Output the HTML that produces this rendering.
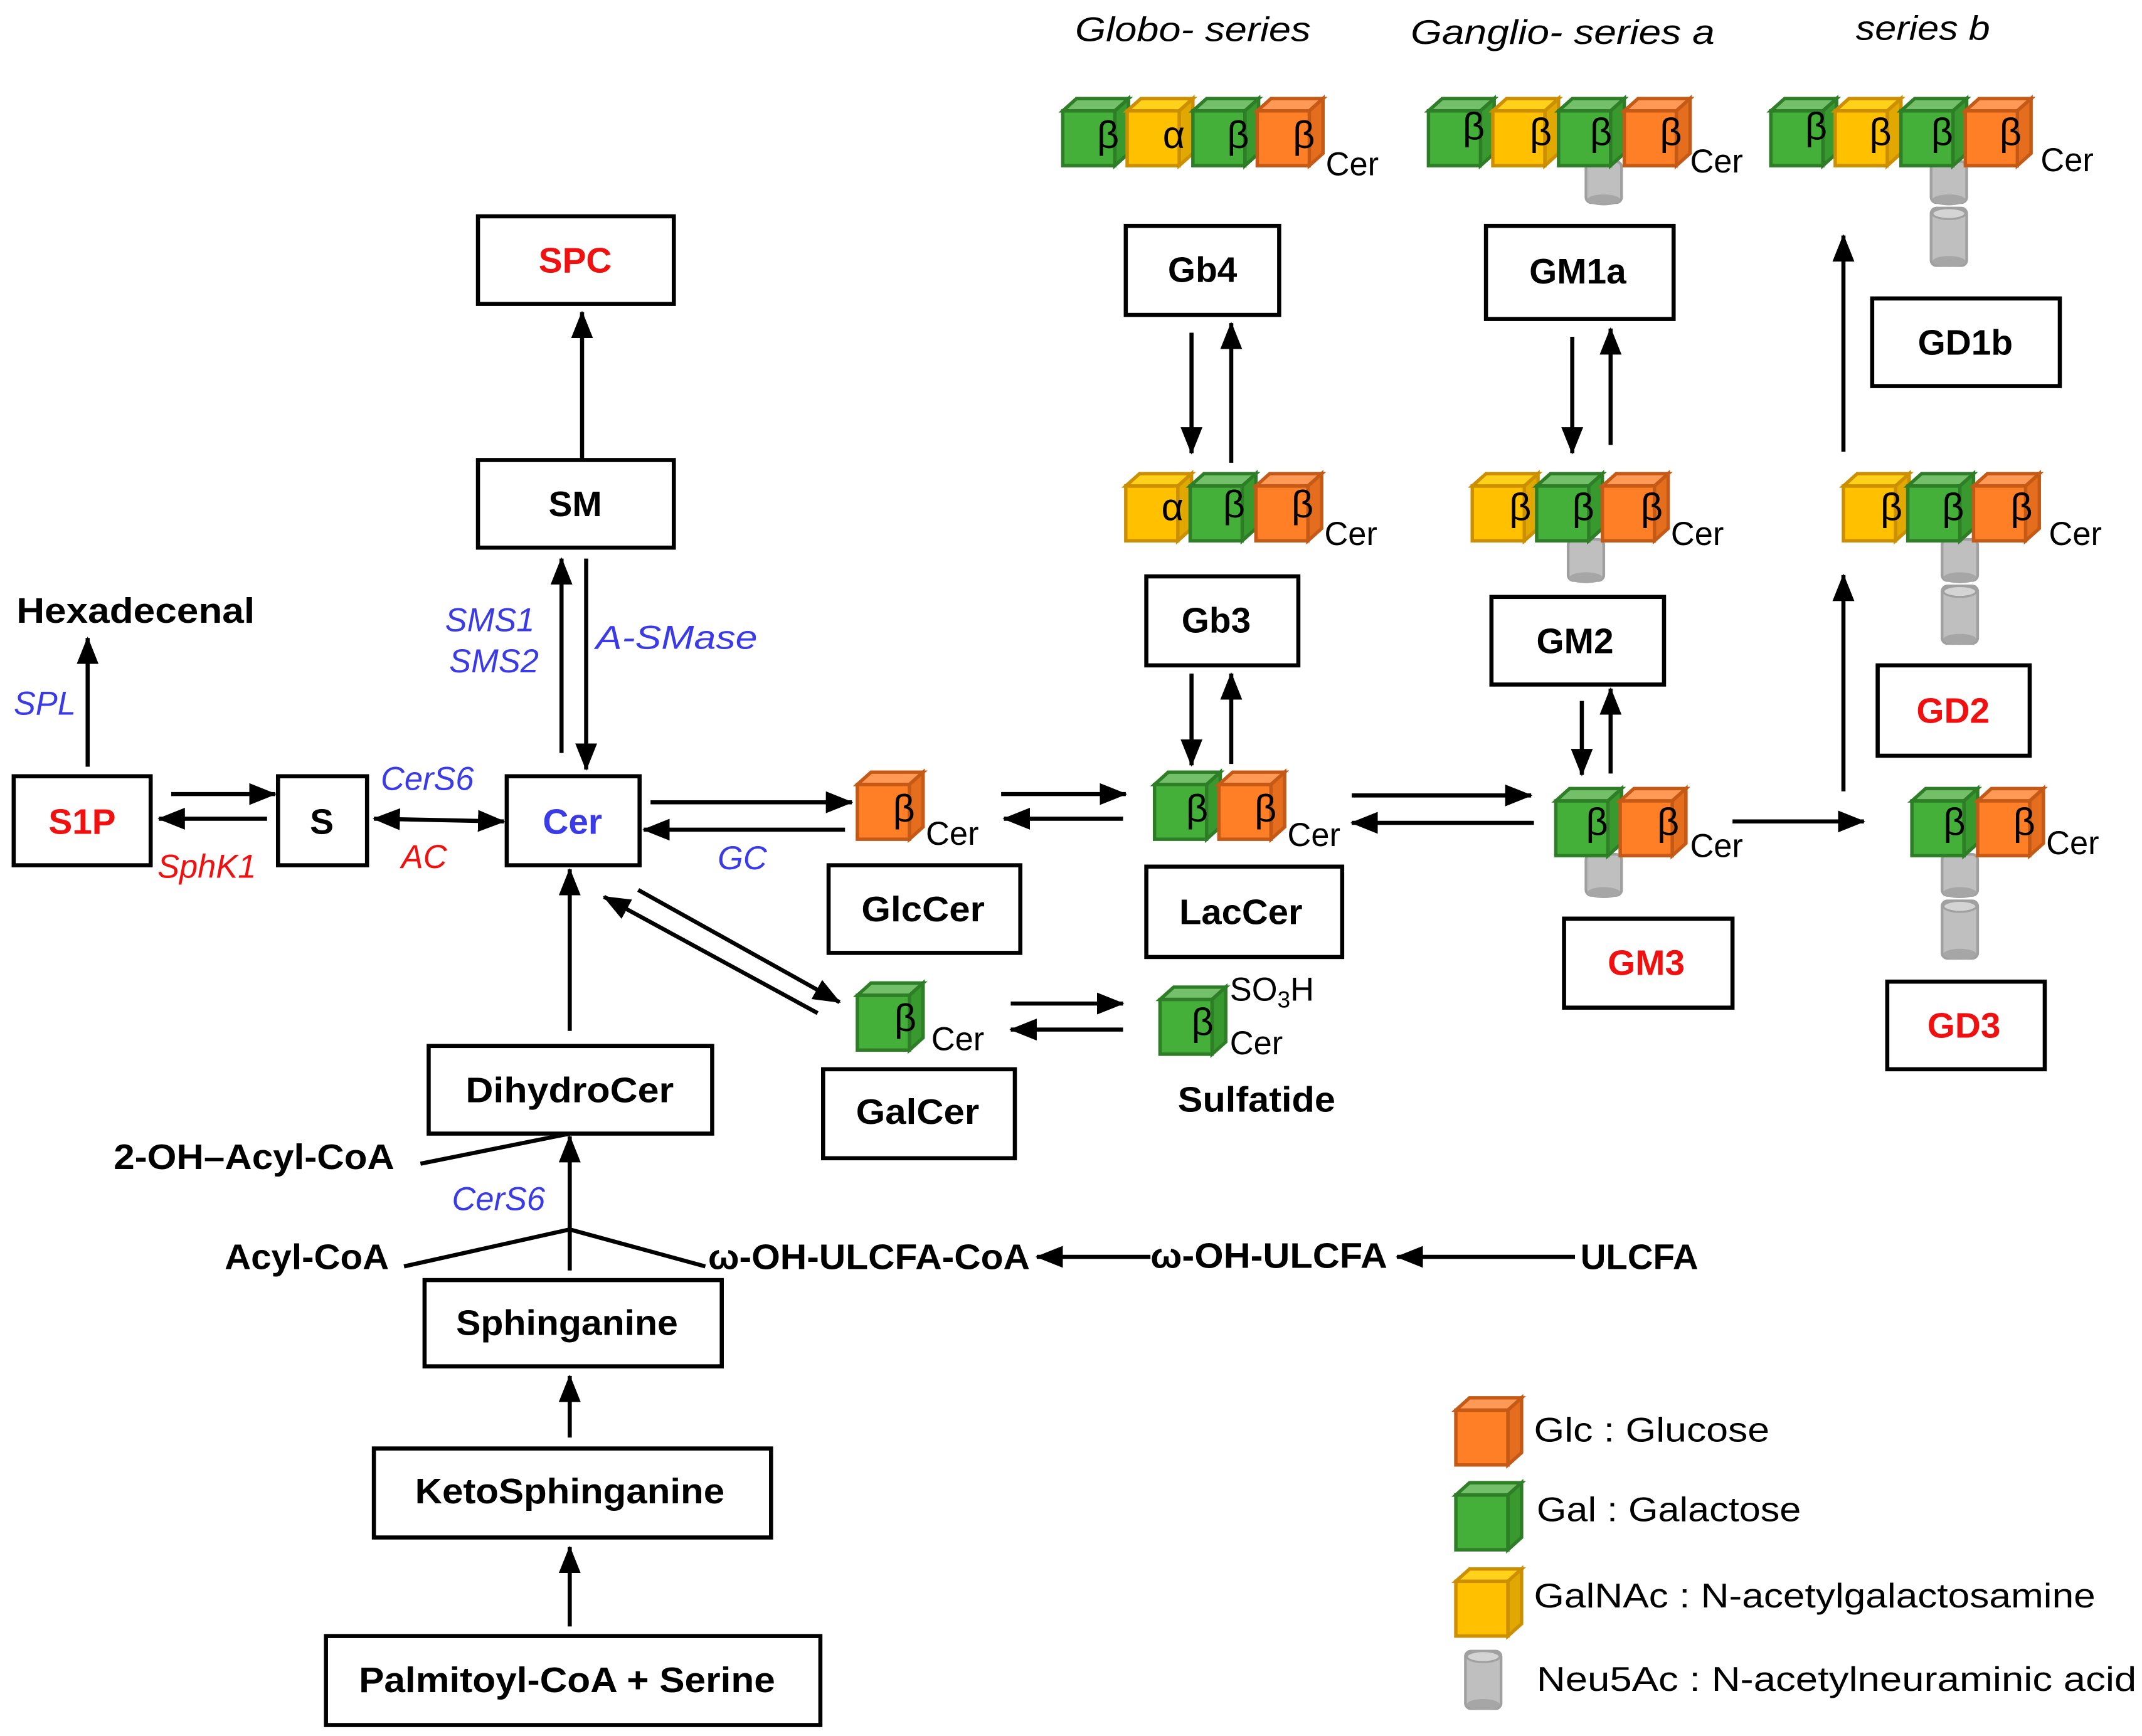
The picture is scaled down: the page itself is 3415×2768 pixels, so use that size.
<!DOCTYPE html>
<html><head><meta charset="utf-8"><style>
html,body{margin:0;padding:0;background:#fff}
svg{display:block}
text{font-family:"Liberation Sans",sans-serif}
.b{font-weight:bold;font-size:26px}
.bl{fill:#3a3ae8;font-style:italic;font-size:24px}
.rd{fill:#f01010;font-style:italic;font-size:24px}
.cer{font-size:24px}
.gk{font-family:"Liberation Serif",serif;font-size:28px}
.leg{font-size:25px}
</style></head><body>
<svg width="3415" height="2768" viewBox="0 0 1564 1268" preserveAspectRatio="none" xmlns="http://www.w3.org/2000/svg">
<defs>
<marker id="ah" markerUnits="userSpaceOnUse" markerWidth="20" markerHeight="16" refX="19" refY="8" orient="auto"><path d="M0,0 L20,8 L0,16 z" fill="#000"/></marker>
<marker id="ahs" markerUnits="userSpaceOnUse" markerWidth="20" markerHeight="16" refX="1" refY="8" orient="auto"><path d="M20,0 L0,8 L20,16 z" fill="#000"/></marker>
<g id="cG"><polygon points="0,0 10,-9 48,-9 38,0" fill="#74C06A" stroke="#2E7D27" stroke-width="2.5"/><polygon points="38,0 48,-9 48,31 38,40" fill="#389A2E" stroke="#2E7D27" stroke-width="2.5"/><rect x="0" y="0" width="38" height="40" fill="#45B039" stroke="#2E7D27" stroke-width="2.5"/></g>
<g id="cY"><polygon points="0,0 10,-9 48,-9 38,0" fill="#FFD11A" stroke="#CC8F00" stroke-width="2.5"/><polygon points="38,0 48,-9 48,31 38,40" fill="#E0A800" stroke="#CC8F00" stroke-width="2.5"/><rect x="0" y="0" width="38" height="40" fill="#FFC000" stroke="#CC8F00" stroke-width="2.5"/></g>
<g id="cO"><polygon points="0,0 10,-9 48,-9 38,0" fill="#FF9955" stroke="#C55A16" stroke-width="2.5"/><polygon points="38,0 48,-9 48,31 38,40" fill="#E56E1E" stroke="#C55A16" stroke-width="2.5"/><rect x="0" y="0" width="38" height="40" fill="#FF7F27" stroke="#C55A16" stroke-width="2.5"/></g>
<g id="cyl"><rect x="0" y="0" width="26" height="30" rx="4" fill="#BFBFBF" stroke="#A0A0A0" stroke-width="2"/><ellipse cx="13" cy="28" rx="12" ry="4" fill="#A6A6A6"/></g>
<g id="cyl2"><rect x="0" y="0" width="26" height="42" rx="4" fill="#BFBFBF" stroke="#A0A0A0" stroke-width="2"/><ellipse cx="13" cy="4" rx="12" ry="4" fill="#D4D4D4" stroke="#A0A0A0" stroke-width="1.5"/><ellipse cx="13" cy="39" rx="12" ry="4" fill="#A6A6A6"/></g>
</defs>

<text x="785" y="30" font-style="italic" font-size="25" textLength="172" lengthAdjust="spacingAndGlyphs">Globo- series</text>
<text x="1030" y="32" font-style="italic" font-size="25" textLength="222" lengthAdjust="spacingAndGlyphs">Ganglio- series a</text>
<text x="1355" y="29" font-style="italic" font-size="25" textLength="98" lengthAdjust="spacingAndGlyphs">series b</text>

<g fill="#fff" stroke="#000" stroke-width="3">
<rect x="349" y="158" width="143" height="64"/>
<rect x="349" y="336" width="143" height="64"/>
<rect x="10" y="567" width="100" height="65"/>
<rect x="203" y="567" width="65" height="65"/>
<rect x="370" y="567" width="97" height="65"/>
<rect x="313" y="764" width="207" height="64"/>
<rect x="310" y="935" width="217" height="63"/>
<rect x="273" y="1058" width="290" height="65"/>
<rect x="238" y="1195" width="361" height="65"/>
<rect x="605" y="632" width="140" height="64"/>
<rect x="601" y="781" width="140" height="65"/>
<rect x="837" y="633" width="143" height="66"/>
<rect x="837" y="421" width="111" height="65"/>
<rect x="822" y="165" width="112" height="65"/>
<rect x="1085" y="165" width="137" height="68"/>
<rect x="1089" y="436" width="126" height="64"/>
<rect x="1142" y="671" width="123" height="65"/>
<rect x="1367" y="218" width="137" height="64"/>
<rect x="1371" y="486" width="111" height="66"/>
<rect x="1378" y="717" width="115" height="64"/>
</g>
<g class="b" text-anchor="middle">
<text x="420" y="199" fill="#f01010">SPC</text>
<text x="420" y="377">SM</text>
<text x="60" y="609" fill="#f01010">S1P</text>
<text x="235" y="609">S</text>
<text x="418" y="609" fill="#3a3ae8">Cer</text>
<text x="416" y="805" textLength="152" lengthAdjust="spacingAndGlyphs">DihydroCer</text>
<text x="414" y="975" textLength="162" lengthAdjust="spacingAndGlyphs">Sphinganine</text>
<text x="416" y="1098" textLength="226" lengthAdjust="spacingAndGlyphs">KetoSphinganine</text>
<text x="414" y="1236" textLength="304" lengthAdjust="spacingAndGlyphs">Palmitoyl-CoA  + Serine</text>
<text x="674" y="673" textLength="90" lengthAdjust="spacingAndGlyphs">GlcCer</text>
<text x="670" y="821" textLength="90" lengthAdjust="spacingAndGlyphs">GalCer</text>
<text x="906" y="675" textLength="90" lengthAdjust="spacingAndGlyphs">LacCer</text>
<text x="888" y="462">Gb3</text>
<text x="878" y="206">Gb4</text>
<text x="1152" y="207">GM1a</text>
<text x="1150" y="477">GM2</text>
<text x="1202" y="712" fill="#f01010">GM3</text>
<text x="1435" y="259">GD1b</text>
<text x="1426" y="528" fill="#f01010">GD2</text>
<text x="1434" y="758" fill="#f01010">GD3</text>
</g>

<g class="b">
<text x="12" y="455" textLength="174" lengthAdjust="spacingAndGlyphs">Hexadecenal</text>
<text x="860" y="812" textLength="115" lengthAdjust="spacingAndGlyphs">Sulfatide</text>
<text x="83" y="854" textLength="205" lengthAdjust="spacingAndGlyphs">2-OH–Acyl-CoA</text>
<text x="164" y="927" textLength="120" lengthAdjust="spacingAndGlyphs">Acyl-CoA</text>
<text x="517" y="927" textLength="235" lengthAdjust="spacingAndGlyphs">ω-OH-ULCFA-CoA</text>
<text x="840" y="926" textLength="173" lengthAdjust="spacingAndGlyphs">ω-OH-ULCFA</text>
<text x="1154" y="927" textLength="86" lengthAdjust="spacingAndGlyphs">ULCFA</text>
</g>
<text class="bl" x="10" y="522">SPL</text>
<text class="bl" x="325" y="461">SMS1</text>
<text class="bl" x="328" y="491">SMS2</text>
<text class="bl" x="435" y="474" textLength="118" lengthAdjust="spacingAndGlyphs">A-SMase</text>
<text class="bl" x="278" y="577">CerS6</text>
<text class="rd" x="293" y="634">AC</text>
<text class="rd" x="115" y="641">SphK1</text>
<text class="bl" x="524" y="635">GC</text>
<text class="bl" x="330" y="884">CerS6</text>

<g stroke="#000" stroke-width="3" fill="none" marker-end="url(#ah)">
<line x1="425" y1="336" x2="425" y2="228"/>
<line x1="410" y1="550" x2="410" y2="408"/>
<line x1="428" y1="408" x2="428" y2="562"/>
<line x1="64" y1="560" x2="64" y2="466"/>
<line x1="125" y1="580" x2="201" y2="580"/>
<line x1="195" y1="598" x2="116" y2="598"/>
<line x1="273" y1="598" x2="368" y2="600" marker-start="url(#ahs)"/>
<line x1="475" y1="586" x2="622" y2="586"/>
<line x1="617" y1="606" x2="470" y2="606"/>
<line x1="597" y1="740" x2="441" y2="655"/>
<line x1="466" y1="650" x2="613" y2="732"/>
<line x1="731" y1="580" x2="822" y2="580"/>
<line x1="820" y1="598" x2="733" y2="598"/>
<line x1="738" y1="733" x2="820" y2="733"/>
<line x1="820" y1="752" x2="738" y2="752"/>
<line x1="987" y1="581" x2="1118" y2="581"/>
<line x1="1120" y1="601" x2="987" y2="601"/>
<line x1="1265" y1="600" x2="1361" y2="600"/>
<line x1="870" y1="492" x2="870" y2="559"/>
<line x1="899" y1="558" x2="899" y2="492"/>
<line x1="870" y1="243" x2="870" y2="331"/>
<line x1="899" y1="338" x2="899" y2="236"/>
<line x1="1148" y1="246" x2="1148" y2="331"/>
<line x1="1176" y1="325" x2="1176" y2="240"/>
<line x1="1155" y1="512" x2="1155" y2="566"/>
<line x1="1176" y1="565" x2="1176" y2="503"/>
<line x1="1346" y1="578" x2="1346" y2="420"/>
<line x1="1346" y1="330" x2="1346" y2="172"/>
<line x1="416" y1="753" x2="416" y2="635"/>
<line x1="416" y1="928" x2="416" y2="830"/>
<line x1="416" y1="1050" x2="416" y2="1005"/>
<line x1="416" y1="1188" x2="416" y2="1130"/>
<line x1="840" y1="918" x2="757" y2="918"/>
<line x1="1150" y1="918" x2="1020" y2="918"/>
</g>
<g stroke="#000" stroke-width="3" fill="none">
<polyline points="295,925 416,898 515,925"/>
<line x1="307" y1="850" x2="416" y2="828"/>
</g>

<g>
<use href="#cG" x="776" y="81"/><use href="#cY" x="823" y="81"/><use href="#cG" x="871" y="81"/><use href="#cO" x="918" y="81"/>
<use href="#cyl" x="1158" y="118"/>
<use href="#cG" x="1043" y="81"/><use href="#cY" x="1090" y="81"/><use href="#cG" x="1138" y="81"/><use href="#cO" x="1186" y="81"/>
<use href="#cyl2" x="1410" y="152"/><use href="#cyl" x="1410" y="118"/>
<use href="#cG" x="1293" y="81"/><use href="#cY" x="1340" y="81"/><use href="#cG" x="1388" y="81"/><use href="#cO" x="1435" y="81"/>
<use href="#cY" x="822" y="355"/><use href="#cG" x="869" y="355"/><use href="#cO" x="917" y="355"/>
<use href="#cyl" x="1145" y="394"/>
<use href="#cY" x="1075" y="355"/><use href="#cG" x="1122" y="355"/><use href="#cO" x="1170" y="355"/>
<use href="#cyl2" x="1418" y="428"/><use href="#cyl" x="1418" y="394"/>
<use href="#cY" x="1346" y="355"/><use href="#cG" x="1393" y="355"/><use href="#cO" x="1441" y="355"/>
<use href="#cO" x="626" y="573"/>
<use href="#cG" x="843" y="573"/><use href="#cO" x="890" y="573"/>
<use href="#cyl" x="1158" y="624"/>
<use href="#cG" x="1136" y="585"/><use href="#cO" x="1183" y="585"/>
<use href="#cyl2" x="1418" y="658"/><use href="#cyl" x="1418" y="624"/>
<use href="#cG" x="1396" y="585"/><use href="#cO" x="1444" y="585"/>
<use href="#cG" x="626" y="727"/>
<use href="#cG" x="847" y="730"/>
<use href="#cO" x="1063" y="1030"/>
<use href="#cG" x="1063" y="1092"/>
<use href="#cY" x="1063" y="1155"/>
<use href="#cyl2" x="1070" y="1206"/>
</g>

<g class="gk">
<text x="801" y="108">β</text><text x="849" y="108">α</text><text x="896" y="108">β</text><text x="944" y="108">β</text>
<text x="1068" y="102">β</text><text x="1117" y="106">β</text><text x="1161" y="106">β</text><text x="1212" y="106">β</text>
<text x="1318" y="102">β</text><text x="1365" y="106">β</text><text x="1410" y="106">β</text><text x="1460" y="106">β</text>
<text x="848" y="380">α</text><text x="893" y="378">β</text><text x="943" y="378">β</text>
<text x="1102" y="380">β</text><text x="1148" y="380">β</text><text x="1198" y="380">β</text>
<text x="1373" y="380">β</text><text x="1418" y="380">β</text><text x="1468" y="380">β</text>
<text x="652" y="600">β</text>
<text x="866" y="600">β</text><text x="916" y="600">β</text>
<text x="1158" y="610">β</text><text x="1210" y="610">β</text>
<text x="1419" y="610">β</text><text x="1470" y="610">β</text>
<text x="653" y="753">β</text>
<text x="870" y="756">β</text>
</g>
<g class="cer">
<text x="968" y="128">Cer</text>
<text x="1234" y="126">Cer</text>
<text x="1490" y="125">Cer</text>
<text x="967" y="398">Cer</text>
<text x="1220" y="398">Cer</text>
<text x="1496" y="398">Cer</text>
<text x="676" y="617">Cer</text>
<text x="940" y="618">Cer</text>
<text x="1234" y="626">Cer</text>
<text x="1494" y="624">Cer</text>
<text x="680" y="767">Cer</text>
<text x="898" y="770">Cer</text>
<text x="898" y="731">SO<tspan font-size="17" dy="5">3</tspan><tspan dy="-5">H</tspan></text>
</g>
<g class="leg">
<text x="1120" y="1053" textLength="172" lengthAdjust="spacingAndGlyphs">Glc : Glucose</text>
<text x="1122" y="1111" textLength="193" lengthAdjust="spacingAndGlyphs">Gal : Galactose</text>
<text x="1120" y="1174" textLength="410" lengthAdjust="spacingAndGlyphs">GalNAc : N-acetylgalactosamine</text>
<text x="1122" y="1235" textLength="438" lengthAdjust="spacingAndGlyphs">Neu5Ac : N-acetylneuraminic acid</text>
</g>
</svg>
</body></html>
